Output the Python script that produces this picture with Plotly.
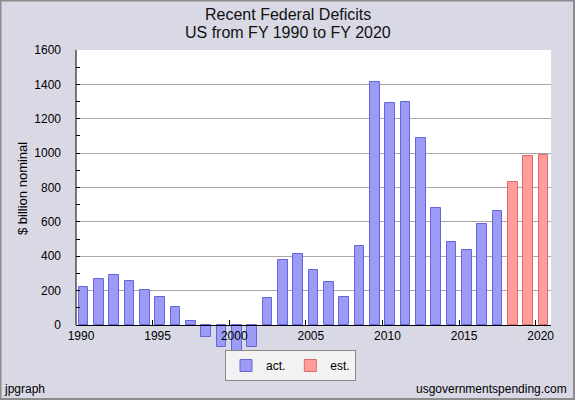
import plotly.graph_objects as go

years_act = list(range(1990, 2018))
deficit_act = [221, 269, 290, 255, 203, 164, 107, 22, -69, -126, -236, -128, 158, 378,
               413, 318, 248, 161, 459, 1413, 1294, 1300, 1087, 680, 485, 438, 585, 665]
years_est = [2018, 2019, 2020]
deficit_est = [833, 985, 987]
x_ticks = [1990, 1995, 2000, 2005, 2010, 2015, 2020]
y_ticks = list(range(0, 1601, 200))
y_minor = list(range(100, 1600, 200))
title_lines = ["Recent Federal Deficits", "US from FY 1990 to FY 2020"]

FONT = "Liberation Sans, Arial, sans-serif"
BG = "#D9D9E6"
W, H = 575, 400
ML, MR, MT, MB = 76, 24, 50, 34
plot_h = H - MT - MB
pw = W - ML - MR
ppu = 275 / 1600.0
ymin = -(plot_h - 275) / ppu
ymax = 1600
xpos = (0 - ymin) / (ymax - ymin)


def px_x(x):
    return (x - ML) / pw


def px_y(y):
    return (H - MB - y) / plot_h


fig = go.Figure()
fig.add_trace(go.Bar(
    x=[y + 0.5 for y in years_act], y=deficit_act, name="act.", width=0.63,
    marker=dict(color="#9C9CF6", line=dict(color="#6464DC", width=1)),
))
fig.add_trace(go.Bar(
    x=[y + 0.5 for y in years_est], y=deficit_est, name="est.", width=0.63,
    marker=dict(color="#FF9C9C", line=dict(color="#E06868", width=1)),
))

fig.update_layout(
    width=W, height=H,
    margin=dict(l=ML, r=MR, t=MT, b=MB, pad=0),
    paper_bgcolor=BG, plot_bgcolor=BG,
    font=dict(family=FONT, size=11, color="#000"),
    showlegend=True,
    legend=dict(orientation="h", x=px_x(225), xanchor="left",
                y=px_y(350), yanchor="top",
                bgcolor="#F2F2F2", bordercolor="#888", borderwidth=1,
                font=dict(family=FONT, size=12), itemwidth=30,
                traceorder="normal"),
    bargap=0,
    xaxis=dict(range=[1990, 2021], tickvals=x_ticks, ticks="inside", ticklen=5,
               tickcolor="#000", showline=True, linecolor="#000", linewidth=1,
               showgrid=False, zeroline=False, anchor="free", position=xpos,
               tickfont=dict(size=12), ticklabelshift=5),
    yaxis=dict(range=[ymin, ymax], tickvals=y_ticks, ticks="inside", ticklen=4,
               tickcolor="#000", showline=False, showgrid=True, gridcolor="#A8A8A8",
               gridwidth=1, zeroline=False, ticklabelstandoff=14,
               tickfont=dict(size=12),
               minor=dict(tickvals=y_minor, ticks="inside", ticklen=4, tickcolor="#000",
                          showgrid=False)),
)

# white plotting region above zero
fig.add_shape(type="rect", xref="paper", yref="y", x0=0, x1=1, y0=0, y1=1600,
              fillcolor="white", line=dict(width=0), layer="below")
# y axis line from 0 to top
fig.add_shape(type="line", xref="paper", yref="y", x0=0, x1=0, y0=0, y1=1600,
              line=dict(color="#000", width=1))
# outer frame
fig.add_shape(type="rect", xref="paper", yref="paper",
              x0=px_x(0.5), x1=px_x(W - 1), y0=px_y(H - 1), y1=px_y(0.5),
              line=dict(color="#8C8C8C", width=2), fillcolor="rgba(0,0,0,0)")

fig.add_annotation(text=title_lines[0], xref="paper", yref="paper",
                   x=px_x(287.5), y=px_y(14), showarrow=False,
                   font=dict(family=FONT, size=16, color="#111"),
                   xanchor="center", yanchor="middle")
fig.add_annotation(text=title_lines[1], xref="paper", yref="paper",
                   x=px_x(287.5), y=px_y(33), showarrow=False,
                   font=dict(family=FONT, size=16, color="#111"),
                   xanchor="center", yanchor="middle")
fig.add_annotation(text="$ billion nominal", textangle=-90, xref="paper", yref="paper",
                   x=px_x(22), y=px_y(189), showarrow=False,
                   font=dict(family=FONT, size=13), xanchor="center", yanchor="middle")
fig.add_annotation(text="jpgraph", xref="paper", yref="paper",
                   x=px_x(2), y=px_y(398), showarrow=False,
                   font=dict(family=FONT, size=12), xanchor="left", yanchor="bottom")
fig.add_annotation(text="usgovernmentspending.com", xref="paper", yref="paper",
                   x=px_x(569), y=px_y(398), showarrow=False,
                   font=dict(family=FONT, size=12), xanchor="right", yanchor="bottom")

fig.write_html("out.html", config={"displayModeBar": False},
               post_script="document.body.style.margin='0';document.body.style.padding='0';document.body.style.overflow='hidden';")
